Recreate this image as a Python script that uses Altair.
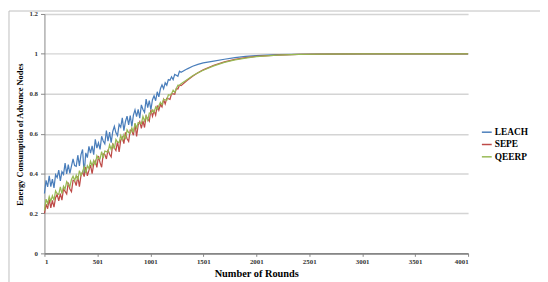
import altair as alt
import pandas as pd

# ---- data ----
rounds = [1, 16, 31, 46, 61, 76, 91, 106, 121, 136, 151, 166, 181, 196, 211,
          226, 241, 256, 271, 286, 301, 316, 331, 346, 361, 376, 391, 406, 421,
          436, 451, 466, 481, 496, 511, 526, 541, 556, 571, 586, 601, 616, 631,
          646, 661, 676, 691, 706, 721, 736, 751, 766, 781, 796, 811, 826, 841,
          856, 871, 886, 901, 916, 931, 946, 961, 976, 991, 1006, 1021, 1036,
          1051, 1066, 1081, 1096, 1111, 1126, 1141, 1156, 1171, 1186, 1201,
          1216, 1231, 1246, 1261, 1276, 1291,
          1350, 1400, 1450, 1500, 1600, 1700, 1800, 1900, 2000, 2200, 2400,
          2600, 3000, 3500, 4001]

leach = [0.300, 0.366, 0.333, 0.389, 0.335, 0.372, 0.328, 0.394, 0.380, 0.417,
         0.363, 0.409, 0.396, 0.452, 0.398, 0.445, 0.401, 0.437, 0.473, 0.440,
         0.436, 0.492, 0.439, 0.495, 0.521, 0.398, 0.504, 0.480, 0.536, 0.503,
         0.539, 0.495, 0.572, 0.528, 0.554, 0.521, 0.587, 0.563, 0.549, 0.616,
         0.562, 0.608, 0.555, 0.611, 0.637, 0.604, 0.590, 0.646, 0.632, 0.679,
         0.615, 0.661, 0.688, 0.644, 0.690, 0.637, 0.693, 0.719, 0.685, 0.722,
         0.678, 0.744, 0.721, 0.707, 0.773, 0.730, 0.766, 0.720, 0.770, 0.790,
         0.765, 0.810, 0.785, 0.825, 0.845, 0.825, 0.855, 0.843, 0.871, 0.868,
         0.885, 0.871, 0.897, 0.893, 0.888, 0.913, 0.908,
         0.925, 0.938, 0.947, 0.955, 0.964, 0.973, 0.981, 0.987, 0.991, 0.996,
         0.998, 0.999, 1.0, 1.0, 1.0]

sepe = [0.200, 0.247, 0.224, 0.271, 0.228, 0.265, 0.232, 0.279, 0.296, 0.263,
        0.300, 0.267, 0.324, 0.311, 0.298, 0.355, 0.322, 0.309, 0.366, 0.363,
        0.340, 0.387, 0.334, 0.391, 0.408, 0.385, 0.432, 0.389, 0.416, 0.443,
        0.400, 0.447, 0.464, 0.431, 0.488, 0.455, 0.432, 0.499, 0.496, 0.473,
        0.520, 0.497, 0.484, 0.551, 0.528, 0.515, 0.562, 0.509, 0.566, 0.583,
        0.550, 0.607, 0.574, 0.561, 0.618, 0.615, 0.592, 0.649, 0.586, 0.643,
        0.660, 0.627, 0.664, 0.631, 0.688, 0.675, 0.662, 0.720, 0.687, 0.715,
        0.693, 0.741, 0.718, 0.746, 0.734, 0.771, 0.749, 0.777, 0.775, 0.772,
        0.800, 0.799, 0.797, 0.826, 0.824, 0.843, 0.841,
        0.868, 0.888, 0.905, 0.920, 0.943, 0.960, 0.972, 0.981, 0.987, 0.994,
        0.998, 0.999, 1.0, 1.0, 1.0]

qeerp = [0.215, 0.272, 0.249, 0.285, 0.262, 0.289, 0.266, 0.313, 0.299, 0.296,
         0.333, 0.300, 0.337, 0.323, 0.360, 0.347, 0.334, 0.371, 0.387, 0.364,
         0.391, 0.368, 0.415, 0.391, 0.408, 0.435, 0.402, 0.439, 0.425, 0.462,
         0.439, 0.466, 0.443, 0.489, 0.476, 0.473, 0.510, 0.477, 0.513, 0.510,
         0.507, 0.544, 0.521, 0.547, 0.524, 0.571, 0.558, 0.555, 0.591, 0.568,
         0.595, 0.572, 0.619, 0.605, 0.602, 0.629, 0.606, 0.653, 0.629, 0.656,
         0.653, 0.650, 0.687, 0.663, 0.690, 0.667, 0.704, 0.702, 0.719, 0.707,
         0.734, 0.722, 0.740, 0.757, 0.745, 0.772, 0.770, 0.768, 0.795, 0.793,
         0.800, 0.818, 0.807, 0.825, 0.843, 0.842, 0.850,
         0.872, 0.890, 0.905, 0.918, 0.940, 0.957, 0.970, 0.979, 0.986, 0.994,
         0.998, 0.999, 1.0, 1.0, 1.0]

series_names = ["LEACH", "SEPE", "QEERP"]
series_colors = ["#4A7EBB", "#BE4B48", "#98B954"]
x_ticks = [1, 501, 1001, 1501, 2001, 2501, 3001, 3501, 4001]
y_ticks = [0, 0.2, 0.4, 0.6, 0.8, 1.0, 1.2]

assert len(rounds) == len(leach) == len(sepe) == len(qeerp), (
    len(rounds), len(leach), len(sepe), len(qeerp))

rows = []
for name, vals in zip(series_names, [leach, sepe, qeerp]):
    for r, v in zip(rounds, vals):
        rows.append({"round": r, "value": v, "series": name})
df = pd.DataFrame(rows)

FONT = "Liberation Serif"

color_scale = alt.Scale(domain=series_names, range=series_colors)

x_enc = alt.X(
    "round:Q",
    scale=alt.Scale(domain=[1, 4001], nice=False, zero=False),
    axis=alt.Axis(
        values=x_ticks, format="d", title="Number of Rounds", grid=False,
        labelFont=FONT, labelFontWeight="bold", labelFontSize=7,
        labelColor="#333333", labelPadding=1,
        tickSize=3, tickColor="#868686", domainColor="#868686", domainWidth=2,
        titleFont=FONT, titleFontSize=10.5, titleFontWeight="bold",
        titleColor="#000000", titleBaseline="alphabetic", titleY=23,
    ),
)
y_enc = alt.Y(
    "value:Q",
    scale=alt.Scale(domain=[0, 1.2], nice=False),
    axis=alt.Axis(
        values=y_ticks, format="~g", title="Energy Consumption of Advance Nodes",
        grid=True, gridColor="#D4D4D4", gridWidth=1.5,
        labelFont=FONT, labelFontWeight="bold", labelFontSize=7,
        labelColor="#333333", labelPadding=3,
        tickSize=4, tickColor="#868686", domainColor="#868686", domainWidth=1,
        titleFont=FONT, titleFontSize=8.5, titleFontWeight="bold",
        titleColor="#000000", titleAngle=270, titleX=-25, titleY=122,
        titleAlign="center", titleBaseline="middle",
    ),
)

base = alt.Chart(df)

legend = alt.Legend(
    title=None, orient="none", legendX=443, legendY=114,
    symbolType="stroke", symbolSize=100, symbolStrokeWidth=1.5,
    labelFont=FONT, labelFontWeight="bold", labelFontSize=9.5,
    labelColor="#000000", rowPadding=1.5, labelOffset=2,
)

layers = []
for i, name in enumerate(series_names):
    if i == 0:
        color = alt.Color("series:N", scale=color_scale, legend=legend)
    else:
        color = alt.Color("series:N", scale=color_scale)
    layers.append(
        base.transform_filter(alt.datum.series == name)
        .mark_line(strokeWidth=1.25)
        .encode(x=x_enc, y=y_enc, color=color)
    )

border = alt.Chart(alt.Data(values=[{"a": 1}])).mark_rect(
    fillOpacity=0, stroke="#BFBFBF", strokeWidth=1
).encode(x=alt.value(-36), x2=alt.value(520), y=alt.value(-3), y2=alt.value(300))

chart = alt.layer(border, *layers).properties(
    width=430, height=243,
    padding={"left": 37, "top": 4, "right": 73, "bottom": 27},
    autosize=alt.AutoSizeParams(type="none"),
    background="white",
).configure_view(stroke=None)

chart.save("out.html", embed_options={"renderer": "svg", "actions": False})
